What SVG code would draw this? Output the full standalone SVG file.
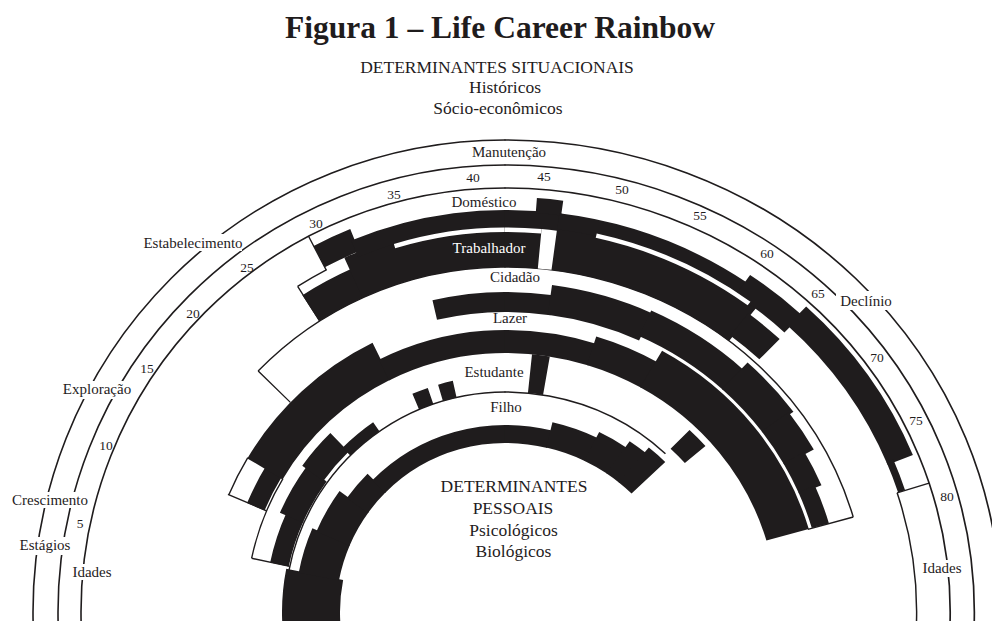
<svg xmlns="http://www.w3.org/2000/svg" xmlns:xlink="http://www.w3.org/1999/xlink" width="992" height="621" viewBox="0 0 992 621">
<style>
text{font-family:"Liberation Serif","Times New Roman",serif;fill:#1f1c1d;text-anchor:middle}
.t{font-size:31.5px;font-weight:bold}
.h{font-size:17.5px}
.lab{font-size:15px}
.num{font-size:13.5px}
.wt{fill:#fff}
.ln{fill:none;stroke:#1f1c1d;stroke-width:1.6}
.o{fill:none;stroke:#1f1c1d;stroke-width:1.4}
.k{fill:none;stroke:#1f1c1d}
.w{fill:none;stroke:#fff}
.gap{fill:#fff}
</style>
<defs>
<clipPath id="cl"><rect x="0" y="0" width="505.5" height="621"/></clipPath>
<clipPath id="cr"><rect x="504.5" y="0" width="488" height="621"/></clipPath>
<g id="rb" transform="translate(505 612)">
  <g id="rings">
    <circle class="ln" r="472"/>
    <circle class="ln" r="447"/>
    <circle class="ln" r="424"/>
  </g>
  <g id="band-filho">
    <circle class="k" r="194" stroke-width="58" pathLength="360" stroke-dasharray="16.4 360" transform="rotate(174.8)"/>
    <circle class="k" r="189.5" stroke-width="41" pathLength="360" stroke-dasharray="12.7 360" transform="rotate(190.8)"/>
    <circle class="k" r="187" stroke-width="36" pathLength="360" stroke-dasharray="13.1 360" transform="rotate(203.1)"/>
    <circle class="k" r="182" stroke-width="26" pathLength="360" stroke-dasharray="9.4 360" transform="rotate(215.8)"/>
    <circle class="k" r="178" stroke-width="18" pathLength="360" stroke-dasharray="59 360" transform="rotate(224.8)"/>
    <circle class="k" r="182" stroke-width="26" pathLength="360" stroke-dasharray="13.5 360" transform="rotate(283.4)"/>
    <circle class="k" r="185" stroke-width="32" pathLength="360" stroke-dasharray="8.7 360" transform="rotate(296.5)"/>
    <circle class="k" r="188.5" stroke-width="39" pathLength="360" stroke-dasharray="5.4 360" transform="rotate(304.8)"/>
    <circle class="k" r="191.5" stroke-width="45" pathLength="360" stroke-dasharray="5.7 360" transform="rotate(309.8)"/>
    <circle class="o" r="220" pathLength="360" stroke-dasharray="123 360" transform="rotate(191)"/>
  </g>
  <g id="band-estudante">
    <circle class="k" r="230.5" stroke-width="19" pathLength="360" stroke-dasharray="12.4 360" transform="rotate(191.9)"/>
    <circle class="k" r="233.5" stroke-width="25" pathLength="360" stroke-dasharray="12.4 360" transform="rotate(203.8)"/>
    <circle class="k" r="237" stroke-width="26" pathLength="360" stroke-dasharray="9.9 360" transform="rotate(215.8)"/>
    <circle class="k" r="225.5" stroke-width="11" pathLength="360" stroke-dasharray="9.9 360" transform="rotate(225.3)"/>
    <circle class="k" r="228.5" stroke-width="17" pathLength="360" stroke-dasharray="4 360" transform="rotate(247)"/>
    <circle class="k" r="228.5" stroke-width="17" pathLength="360" stroke-dasharray="3.7 360" transform="rotate(253.6)"/>
    <circle class="k" r="239.5" stroke-width="39" pathLength="360" stroke-dasharray="3.8 360" transform="rotate(275.7)"/>
    <circle class="k" r="240" stroke-width="26" pathLength="360" stroke-dasharray="5 360" transform="rotate(314)"/>
    <circle class="o" r="259" pathLength="360" stroke-dasharray="19 360" transform="rotate(192)"/>
    <circle class="k" r="239.5" stroke-width="39" pathLength="360" stroke-dasharray="0.35 360" transform="rotate(191.8)"/>
  </g>
  <g id="band-lazer">
    <circle class="k" r="270.5" stroke-width="19" pathLength="360" stroke-dasharray="8.4 360" transform="rotate(202.9)"/>
    <circle class="k" r="279.5" stroke-width="41" pathLength="360" stroke-dasharray="33 360" transform="rotate(210.8)"/>
    <circle class="k" r="270.5" stroke-width="23" pathLength="360" stroke-dasharray="44.5 360" transform="rotate(243.4)"/>
    <circle class="k" r="274" stroke-width="30" pathLength="360" stroke-dasharray="12.7 360" transform="rotate(287.5)"/>
    <circle class="k" r="280" stroke-width="42" pathLength="360" stroke-dasharray="44.2 360" transform="rotate(299.8)"/>
    <circle class="o" r="300" pathLength="360" stroke-dasharray="8 360" transform="rotate(203)"/>
    <circle class="k" r="280" stroke-width="42" pathLength="360" stroke-dasharray="0.29 360" transform="rotate(202.85)"/>
  </g>
  <g id="band-cidadao">
    <circle class="k" r="310" stroke-width="20" pathLength="360" stroke-dasharray="21.4 360" transform="rotate(256.9)"/>
    <circle class="k" r="315" stroke-width="30" pathLength="360" stroke-dasharray="17.4 360" transform="rotate(277.8)"/>
    <circle class="k" r="318" stroke-width="28" pathLength="360" stroke-dasharray="18.4 360" transform="rotate(294.8)"/>
    <circle class="k" r="322" stroke-width="36" pathLength="360" stroke-dasharray="11.1 360" transform="rotate(312.8)"/>
    <circle class="k" r="320" stroke-width="32" pathLength="360" stroke-dasharray="7.6 360" transform="rotate(323.5)"/>
    <circle class="k" r="315.5" stroke-width="23" pathLength="360" stroke-dasharray="6.5 360" transform="rotate(330.7)"/>
    <circle class="k" r="312.5" stroke-width="17" pathLength="360" stroke-dasharray="7.2 360" transform="rotate(336.8)"/>
    <circle class="o" r="345" pathLength="360" stroke-dasharray="119.7 360" transform="rotate(224.3)"/>
    <circle class="k" r="322.5" stroke-width="45" pathLength="360" stroke-dasharray="0.25 360" transform="rotate(224.2)"/>
    <circle class="k" r="322.5" stroke-width="45" pathLength="360" stroke-dasharray="0.25 360" transform="rotate(343.9)"/>
  </g>
  <g id="band-trabalhador">
    <circle class="k" r="360.5" stroke-width="31" pathLength="360" stroke-dasharray="8.7 360" transform="rotate(237.4)"/>
    <circle class="k" r="367" stroke-width="44" pathLength="360" stroke-dasharray="62.6 360" transform="rotate(245.6)"/>
    <circle class="k" r="364" stroke-width="28" pathLength="360" stroke-dasharray="6 360" transform="rotate(307.8)"/>
    <circle class="k" r="365.5" stroke-width="41" pathLength="360" stroke-dasharray="0.22 360" transform="rotate(237.4)"/>
    <circle class="o" r="386" pathLength="360" stroke-dasharray="5 360" transform="rotate(237.5)"/>
  </g>
  <g id="band-domestico">
    <circle class="k" r="401" stroke-width="24" pathLength="360" stroke-dasharray="5.6 360" transform="rotate(242.4)"/>
    <circle class="k" r="393" stroke-width="18" pathLength="360" stroke-dasharray="30.3 360" transform="rotate(247.5)"/>
    <circle class="k" r="407.5" stroke-width="15" pathLength="360" stroke-dasharray="3.5 360" transform="rotate(274.2)"/>
    <circle class="k" r="394" stroke-width="16" pathLength="360" stroke-dasharray="27.7 360" transform="rotate(277.4)"/>
    <circle class="k" r="398" stroke-width="24" pathLength="360" stroke-dasharray="8.9 360" transform="rotate(304.7)"/>
    <circle class="k" r="406" stroke-width="26" pathLength="360" stroke-dasharray="24.8 360" transform="rotate(313.2)"/>
    <circle class="k" r="396.5" stroke-width="7" pathLength="360" stroke-dasharray="4.7 360" transform="rotate(337.6)"/>
    <circle class="k" r="405" stroke-width="38" pathLength="360" stroke-dasharray="0.2 360" transform="rotate(242.3)"/>
    <circle class="k" r="408" stroke-width="32" pathLength="360" stroke-dasharray="0.2 360" transform="rotate(342.2)"/>
    <circle class="o" r="392" pathLength="360" stroke-dasharray="22.7 360" transform="rotate(342.3)"/>
  </g>
  <g id="white-gaps">
    <circle class="w" r="382.25" stroke-width="4.5" pathLength="360" stroke-dasharray="22 360" transform="rotate(253.2)"/>
    <circle class="w" r="364.75" stroke-width="39.5" pathLength="360" stroke-dasharray="2.2 360" transform="rotate(275.2)"/>
    <circle class="w" r="386.25" stroke-width="4.5" pathLength="360" stroke-dasharray="24 360" transform="rotate(283)"/>
  </g>
</g>
</defs>
<g id="rainbow">
  <g id="rainbow-left" clip-path="url(#cl)"><use xlink:href="#rb" href="#rb"/></g>
  <g id="rainbow-right" clip-path="url(#cr)"><use xlink:href="#rb" href="#rb" transform="matrix(1.05 0 0 1 -25.25 0)"/></g>
</g>
<g id="label-gaps">
  <rect class="gap" x="141" y="234" width="101" height="17"/>
  <rect class="gap" x="60" y="381" width="74" height="18"/>
  <rect class="gap" x="10" y="492" width="81" height="16"/>
  <rect class="gap" x="18" y="537" width="55" height="18"/>
  <rect class="gap" x="70" y="564" width="44" height="16"/>
  <rect class="gap" x="836" y="291" width="61" height="19"/>
  <rect class="gap" x="920" y="560" width="44" height="17"/>
</g>
<g id="title"><text class="t" x="500" y="38">Figura 1 – Life Career Rainbow</text></g>
<g id="situacionais">
  <text class="h" x="497" y="73">DETERMINANTES SITUACIONAIS</text>
  <text class="h" x="505" y="93">Históricos</text>
  <text class="h" x="498" y="114">Sócio-econômicos</text>
</g>
<g id="pessoais">
  <text class="h" x="514" y="492">DETERMINANTES</text>
  <text class="h" x="513" y="514">PESSOAIS</text>
  <text class="h" x="513.5" y="536">Psicológicos</text>
  <text class="h" x="513.5" y="557">Biológicos</text>
</g>
<g id="stages">
  <text class="lab" x="193" y="248">Estabelecimento</text>
  <text class="lab" x="509" y="157">Manutenção</text>
  <text class="lab" x="97" y="394">Exploração</text>
  <text class="lab" x="50" y="505">Crescimento</text>
  <text class="lab" x="866" y="306">Declínio</text>
  <text class="lab" x="45" y="550">Estágios</text>
  <text class="lab" x="92" y="577">Idades</text>
  <text class="lab" x="942" y="573">Idades</text>
</g>
<g id="roles">
  <text class="lab" x="484" y="207">Doméstico</text>
  <text class="lab wt" x="489" y="253">Trabalhador</text>
  <text class="lab" x="515" y="282">Cidadão</text>
  <text class="lab" x="510" y="323">Lazer</text>
  <text class="lab" x="494" y="377">Estudante</text>
  <text class="lab" x="506" y="412">Filho</text>
</g>
<g id="ages">
  <text class="num" x="80" y="528">5</text>
  <text class="num" x="106" y="450">10</text>
  <text class="num" x="147" y="373">15</text>
  <text class="num" x="193" y="318">20</text>
  <text class="num" x="247" y="272">25</text>
  <text class="num" x="316" y="228">30</text>
  <text class="num" x="394" y="199">35</text>
  <text class="num" x="473" y="182">40</text>
  <text class="num" x="544" y="181">45</text>
  <text class="num" x="622" y="194">50</text>
  <text class="num" x="700" y="220">55</text>
  <text class="num" x="767" y="258">60</text>
  <text class="num" x="818" y="298">65</text>
  <text class="num" x="877" y="362">70</text>
  <text class="num" x="916" y="425">75</text>
  <text class="num" x="947" y="501">80</text>
</g>
</svg>
